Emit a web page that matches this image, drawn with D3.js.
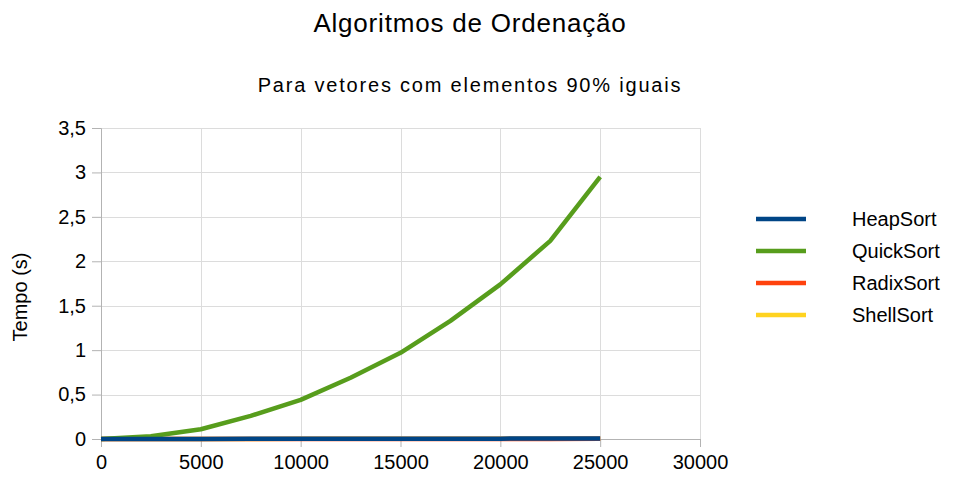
<!DOCTYPE html>
<html>
<head>
<meta charset="utf-8">
<script src="https://cdn.jsdelivr.net/npm/d3@7"></script>
<style>
    body { margin: 0; background: #fff; }
    text { font-family: "Liberation Sans", Arial, sans-serif; fill: #000; }
</style>
</head>
<body>
<script>

// vector sizes (x axis)
var sizes = [0, 2500, 5000, 7500, 10000, 12500, 15000, 17500, 20000, 22500, 25000];

// times in seconds for each algorithm
var heapSort  = [0, 0.0005, 0.0010, 0.0015, 0.0020, 0.0026, 0.0031, 0.0036, 0.0042, 0.0047, 0.0053];
var quickSort = [0, 0.03, 0.11, 0.26, 0.44, 0.69, 0.97, 1.33, 1.74, 2.23, 2.95];
var radixSort = [0, 0.0002, 0.0003, 0.0005, 0.0006, 0.0008, 0.0009, 0.0011, 0.0012, 0.0014, 0.0015];
var shellSort = [0, 0.0003, 0.0007, 0.0011, 0.0015, 0.0019, 0.0023, 0.0027, 0.0031, 0.0035, 0.0039];

var seriesNames  = ["HeapSort", "QuickSort", "RadixSort", "ShellSort"];
var seriesColors = ["#004586", "#579d1c", "#ff420e", "#ffd320"];

// tick values
var xTicks = [0, 5000, 10000, 15000, 20000, 25000, 30000];
var yTicks = [0, 0.5, 1, 1.5, 2, 2.5, 3, 3.5];

var width = 955, height = 495;
var margin = { top: 128, right: 255, bottom: 56, left: 101 };
var plotWidth = width - margin.left - margin.right;
var plotHeight = height - margin.top - margin.bottom;

var svg = d3.select("body").append("svg")
    .attr("width", width)
    .attr("height", height);

// titles
svg.append("text")
    .attr("x", 470)
    .attr("y", 32)
    .attr("text-anchor", "middle")
    .style("font-size", "26px")
    .style("letter-spacing", "0.8px")
    .text("Algoritmos de Ordenação");

svg.append("text")
    .attr("x", 470)
    .attr("y", 92)
    .attr("text-anchor", "middle")
    .style("font-size", "20px")
    .style("letter-spacing", "1.8px")
    .text("Para vetores com elementos 90% iguais");

var x = d3.scaleLinear().domain([0, 30000]).range([0, plotWidth]);
var y = d3.scaleLinear().domain([0, 3.5]).range([plotHeight, 0]);

var g = svg.append("g")
    .attr("transform", "translate(" + margin.left + "," + margin.top + ")");

// grid lines
g.append("g")
    .selectAll("line")
    .data(yTicks)
    .enter().append("line")
    .attr("x1", 0).attr("x2", plotWidth)
    .attr("y1", function(d) { return Math.round(y(d)) + 0.5; })
    .attr("y2", function(d) { return Math.round(y(d)) + 0.5; })
    .attr("stroke", "#dcdcdc");

g.append("g")
    .selectAll("line")
    .data(xTicks.slice(1))
    .enter().append("line")
    .attr("y1", 0).attr("y2", plotHeight)
    .attr("x1", function(d) { return Math.round(x(d)) + 0.5; })
    .attr("x2", function(d) { return Math.round(x(d)) + 0.5; })
    .attr("stroke", "#dcdcdc");

// axes
var xAxis = g.append("g")
    .attr("transform", "translate(0," + plotHeight + ")")
    .call(d3.axisBottom(x).tickValues(xTicks).tickFormat(d3.format("d")).tickSize(8).tickPadding(8));

var yAxis = g.append("g")
    .call(d3.axisLeft(y).tickValues(yTicks)
        .tickFormat(function(d) { return String(d).replace(".", ","); })
        .tickSize(9).tickPadding(6));

[xAxis, yAxis].forEach(function(ax) {
    ax.select(".domain").attr("stroke", "#b3b3b3");
    ax.selectAll(".tick line").attr("stroke", "#b3b3b3");
    ax.selectAll(".tick text")
        .style("font-size", "20px")
        .style("font-family", "Liberation Sans, Arial, sans-serif")
        .attr("fill", "#000");
});

// y axis title
svg.append("text")
    .attr("transform", "translate(27,297) rotate(-90)")
    .attr("text-anchor", "middle")
    .style("font-size", "20px")
    .text("Tempo (s)");

// lines
var allSeries = [heapSort, quickSort, radixSort, shellSort];
var line = d3.line()
    .x(function(d, i) { return x(sizes[i]); })
    .y(function(d) { return y(d); });

// draw shell, radix, quick first so heap sits on top
[3, 2, 1, 0].forEach(function(k) {
    g.append("path")
        .datum(allSeries[k])
        .attr("fill", "none")
        .attr("stroke", seriesColors[k])
        .attr("stroke-width", 4.5)
        .attr("stroke-linejoin", "round")
        .attr("d", line);
});

// legend
var legend = svg.append("g")
    .attr("transform", "translate(756,219)");

seriesNames.forEach(function(name, i) {
    var row = legend.append("g").attr("transform", "translate(0," + (i * 32) + ")");
    row.append("line")
        .attr("x1", 0).attr("x2", 50)
        .attr("y1", 0).attr("y2", 0)
        .attr("stroke", seriesColors[i])
        .attr("stroke-width", 4.5);
    row.append("text")
        .attr("x", 96)
        .attr("y", 7)
        .style("font-size", "20px")
        .text(name);
});

</script>
</body>
</html>
